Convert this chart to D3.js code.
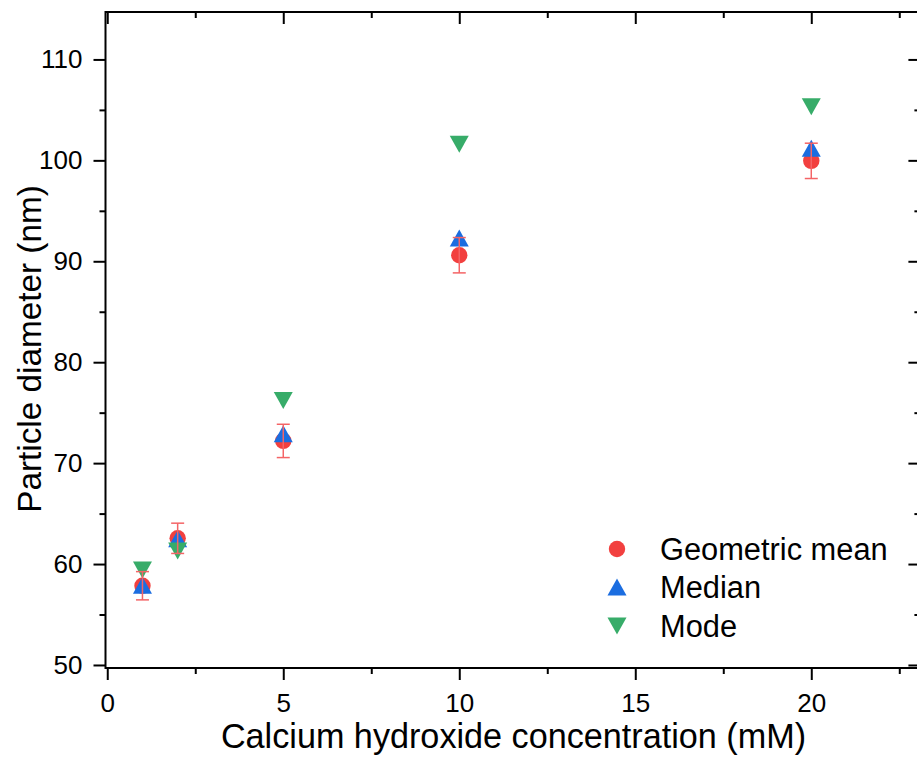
<!DOCTYPE html>
<html>
<head>
<meta charset="utf-8">
<script src="https://cdn.jsdelivr.net/npm/d3@7"></script>
<style>
  html, body { margin: 0; padding: 0; background: #ffffff; }
  svg { display: block; font-family: "Liberation Sans", Arial, Helvetica, sans-serif; }
</style>
</head>
<body>
<svg id="chart" width="917" height="757"></svg>
<script>
// ---------------- data ----------------
const concentrations = [1, 2, 5, 10, 20];
const geometricMean = [57.85, 62.55, 72.2, 90.6, 99.95];
const geometricMeanErr = [1.4, 1.5, 1.65, 1.75, 1.75];
const medianValues = [57.9, 62.5, 72.9, 92.3, 101.2];
const modeValues = [59.4, 61.3, 76.2, 101.6, 105.3];
const seriesNames = ["Geometric mean", "Median", "Mode"];
const xMajorTicks = [0, 5, 10, 15, 20];
const yMajorTicks = [50, 60, 70, 80, 90, 100, 110];

// ---------------- layout ----------------
const svg = d3.select("#chart");
const plotLeft = 105.5, plotRight = 920.4, plotTop = 12, plotBottom = 668;
const colors = { mean: "#f2403f", median: "#1b6de0", mode: "#37ac69" };

const x = d3.scaleLinear().domain([-0.05, 23.1]).range([plotLeft, plotRight]);
const y = d3.scaleLinear().domain([49.7, 114.7]).range([plotBottom, plotTop]);

const xMinor = d3.range(0, 23.1, 2.5).filter(v => v % 5 !== 0);
const yMinor = d3.range(50, 115, 5).filter(v => v % 10 !== 0);

const majorLen = 12, minorLen = 6;

// axes (outward) bottom & left
const gx = svg.append("g").attr("transform", `translate(0,${plotBottom})`)
  .call(d3.axisBottom(x).tickValues(xMajorTicks).tickSize(majorLen).tickPadding(14).tickFormat(d3.format("d")));
gx.append("g").call(d3.axisBottom(x).tickValues(xMinor).tickSize(minorLen).tickFormat(""));
const gy = svg.append("g").attr("transform", `translate(${plotLeft},0)`)
  .call(d3.axisLeft(y).tickValues(yMajorTicks).tickSize(majorLen).tickPadding(11).tickFormat(d3.format("d")));
gy.append("g").call(d3.axisLeft(y).tickValues(yMinor).tickSize(minorLen).tickFormat(""));

// top & right (inward)
const gt = svg.append("g").attr("transform", `translate(0,${plotTop})`)
  .call(d3.axisBottom(x).tickValues(xMajorTicks).tickSize(majorLen).tickFormat(""));
gt.append("g").call(d3.axisBottom(x).tickValues(xMinor).tickSize(minorLen).tickFormat(""));
const gr = svg.append("g").attr("transform", `translate(${plotRight},0)`)
  .call(d3.axisLeft(y).tickValues(yMajorTicks).tickSize(majorLen).tickFormat(""));
gr.append("g").call(d3.axisLeft(y).tickValues(yMinor).tickSize(minorLen).tickFormat(""));

[gx, gy, gt, gr].forEach(g => {
  g.selectAll(".domain").remove();
  g.selectAll("line").attr("stroke", "#000").attr("stroke-width", 2);
  g.selectAll("text").attr("fill", "#000").attr("font-size", 26)
    .attr("font-family", "'Liberation Sans', Arial, sans-serif");
});

// frame
svg.append("rect").attr("x", plotLeft).attr("y", plotTop)
  .attr("width", plotRight - plotLeft).attr("height", plotBottom - plotTop)
  .attr("fill", "none").attr("stroke", "#000").attr("stroke-width", 2);

// markers
const triUp = (cx, cy, w, h) => `M${cx},${cy - h / 2}L${cx + w / 2},${cy + h / 2}L${cx - w / 2},${cy + h / 2}Z`;
const triDown = (cx, cy, w, h) => `M${cx},${cy + h / 2}L${cx + w / 2},${cy - h / 2}L${cx - w / 2},${cy - h / 2}Z`;
const triW = 19, triH = 17, circR = 8.2;

const plot = svg.append("g");
plot.selectAll("circle.mean").data(concentrations).join("circle")
  .attr("cx", d => x(d)).attr("cy", (d, i) => y(geometricMean[i])).attr("r", circR)
  .attr("fill", colors.mean);
plot.selectAll("path.median").data(concentrations).join("path")
  .attr("class", "median")
  .attr("d", (d, i) => triUp(x(d), y(medianValues[i]), triW, triH)).attr("fill", colors.median);
plot.selectAll("path.mode").data(concentrations).join("path")
  .attr("class", "mode")
  .attr("d", (d, i) => triDown(x(d), y(modeValues[i]), triW, triH)).attr("fill", colors.mode);

// error bars (on top)
const eb = svg.append("g").attr("stroke", "#f46466").attr("stroke-width", 1.5);
concentrations.forEach((c, i) => {
  const cx = x(c), y0 = y(geometricMean[i] - geometricMeanErr[i]), y1 = y(geometricMean[i] + geometricMeanErr[i]);
  eb.append("line").attr("x1", cx).attr("x2", cx).attr("y1", y0).attr("y2", y1);
  eb.append("line").attr("x1", cx - 6.5).attr("x2", cx + 6.5).attr("y1", y0).attr("y2", y0);
  eb.append("line").attr("x1", cx - 6.5).attr("x2", cx + 6.5).attr("y1", y1).attr("y2", y1);
});

// axis titles
svg.append("text").attr("x", 513.5).attr("y", 748)
  .attr("text-anchor", "middle").attr("font-size", 34.2).attr("fill", "#000")
  .text("Calcium hydroxide concentration (mM)");
svg.append("text").attr("transform", `translate(41,349) rotate(-90)`)
  .attr("text-anchor", "middle").attr("font-size", 33.3).attr("fill", "#000")
  .text("Particle diameter (nm)");

// legend
const legX = 617, legTextX = 660, legY = [549, 587, 626];
const leg = svg.append("g");
leg.append("circle").attr("cx", legX).attr("cy", legY[0]).attr("r", circR).attr("fill", colors.mean);
leg.append("path").attr("d", triUp(legX, legY[1], triW, triH)).attr("fill", colors.median);
leg.append("path").attr("d", triDown(legX, legY[2], triW, triH)).attr("fill", colors.mode);
leg.selectAll("text").data(seriesNames).join("text")
  .attr("x", legTextX).attr("y", (d, i) => legY[i]).attr("dy", "0.36em")
  .attr("font-size", 30.8).attr("fill", "#000").text(d => d);
</script>
</body>
</html>
